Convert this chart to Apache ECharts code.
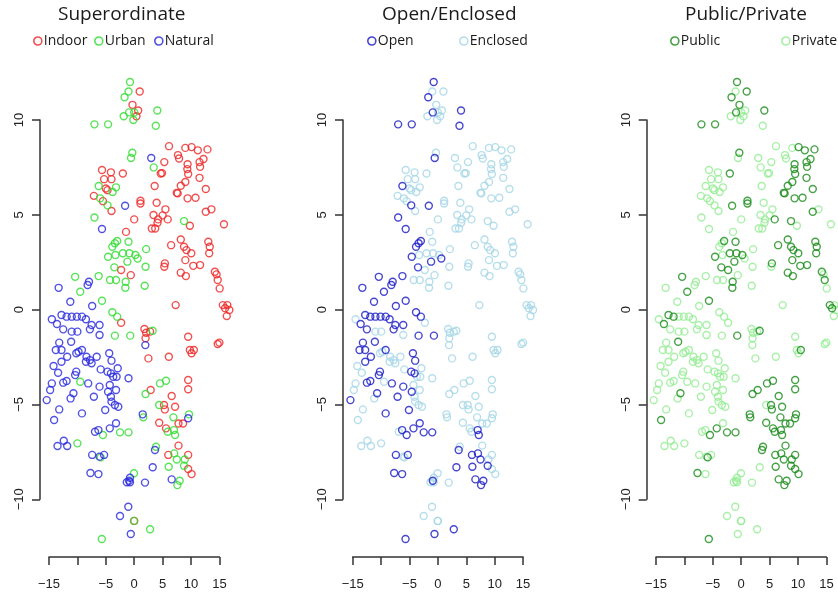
<!DOCTYPE html>
<html>
<head>
<meta charset="utf-8">
<script src="https://cdn.jsdelivr.net/npm/echarts@6/dist/echarts.min.js"></script>
<style>
  html, body { margin: 0; padding: 0; background: #fff; }
  #chart { width: 838px; height: 592px; }
</style>
</head>
<body>
<div id="chart"></div>
<script>
// each point: [x, y, open(1)/enclosed(0), public(1)/private(0)]
var indoorPts = [
  [0.97,11.5,0,1],[-0.3,10.8,0,1],[0.7,10.5,0,0],[0.4,10.2,0,0],
  [6.13,8.62,0,0],[9.0,8.53,0,0],[10.1,8.57,0,1],[11.2,8.4,0,1],[12.9,8.45,0,1],
  [7.7,8.15,0,0],[7.9,7.97,0,0],[12.2,7.94,0,1],[11.5,7.78,0,1],[9.4,7.67,0,1],
  [5.3,7.78,0,0],[11.6,7.53,0,1],[9.35,7.41,0,1],[9.5,7.15,0,1],[4.67,7.18,0,0],
  [4.9,7.2,0,0],[11.5,6.95,0,1],[9.0,6.73,0,1],[8.2,6.53,0,1],[3.6,6.52,0,0],
  [12.6,6.36,0,1],[7.5,6.16,0,1],[7.65,6.13,0,1],[9.4,5.87,0,1],[10.8,5.9,0,1],
  [12.6,5.16,0,1],[13.6,5.29,0,0],[5.5,5.29,0,0],[5.0,4.97,0,0],[3.4,4.99,0,0],
  [4.2,4.76,0,0],[4.1,4.58,0,0],[5.9,4.76,0,1],[3.1,4.28,0,0],[3.7,4.28,0,0],
  [0.0,4.76,0,0],[9.8,4.42,0,0],[15.8,4.5,0,0],[-1.44,4.1,0,0],[1.1,5.74,0,1],
  [1.1,5.6,0,1],[3.95,5.64,0,0],
  [-2.0,7.18,0,1],[-5.67,7.36,0,0],[-4.1,7.24,0,0],[-5.3,6.88,0,0],[-4.0,6.88,0,0],
  [-5.0,6.39,0,0],[-4.7,6.3,0,0],[-7.1,6.0,0,0],[-5.5,5.72,0,0],[-4.0,5.2,0,0],
  [6.5,3.4,0,1],[8.2,3.7,0,1],[8.77,3.32,0,1],[9.2,3.14,0,1],[10.05,2.97,0,1],
  [9.0,2.61,0,1],[13.05,3.58,0,1],[13.3,3.32,0,1],[13.2,2.97,0,1],[5.4,2.44,0,1],
  [5.3,2.26,0,0],[10.4,2.31,0,1],[11.6,2.35,0,1],[8.2,1.95,0,1],[9.1,1.77,0,1],
  [14.2,2.0,0,1],[14.5,1.86,0,0],[14.7,1.56,0,1],[15.05,1.12,0,0],[7.3,0.24,0,0],
  [15.6,0.24,0,1],[16.4,0.24,0,0],[16.0,0.07,0,1],[16.75,-0.02,0,0],[16.3,-0.34,0,0],
  [-2.3,2.09,0,1],[-0.6,1.82,0,0],[-2.3,-0.69,0,0],
  [1.8,-1.02,0,0],[2.1,-1.22,0,0],[2.8,-1.16,0,0],[2.0,-1.51,0,0],[9.5,-1.43,0,0],
  [9.8,-2.13,0,0],[10.5,-2.13,0,1],[10.1,-2.3,0,0],[14.7,-1.81,0,0],[15.0,-1.74,0,0],
  [2.5,-2.57,0,0],[6.1,-2.48,0,0],[9.5,-3.71,0,1],[9.5,-4.2,0,1],[2.9,-4.24,0,1],
  [6.6,-4.55,0,1],[5.25,-5.03,0,1],[5.4,-5.26,0,1],[7.2,-5.12,0,1],[4.4,-5.96,0,1],
  [5.6,-6.26,0,1],[7.8,-6.0,0,1],[8.6,-6.0,0,1],[7.8,-7.17,0,1],[6.0,-7.66,1,1],
  [9.5,-7.66,0,1],[9.5,-8.4,0,1],[10.1,-8.67,0,1],[0.0,-11.14,0,0]
];
var urbanPts = [
  [-0.74,12.0,1,1],[-1.0,11.5,0,0],[-1.7,11.2,1,1],[-0.9,10.4,1,1],[0.0,10.4,0,0],
  [-1.85,10.2,0,0],[-0.15,10.0,0,0],[4.07,10.5,1,1],[3.8,9.7,1,0],[-7.0,9.77,1,1],
  [-4.6,9.77,1,1],[-0.33,8.27,0,1],[-0.56,8.0,1,0],[3.43,7.5,0,0],[-6.25,6.52,1,0],
  [-3.2,6.45,0,0],[-3.8,6.2,0,0],[-6.0,5.87,0,0],[-4.7,5.5,1,0],[-7.0,4.86,1,0],
  [8.77,4.67,0,1],[-3.0,3.62,1,1],[-3.4,3.5,1,0],[-3.85,3.32,1,0],[-1.0,3.58,0,1],
  [-4.6,2.79,1,1],[-3.3,2.88,0,0],[-2.0,2.97,0,1],[-0.85,2.97,0,1],[0.2,2.88,0,1],
  [0.6,2.7,1,0],[2.1,3.19,0,0],[-1.2,2.53,1,1],[-3.5,2.23,1,1],[2.0,2.26,0,0],
  [-4.26,1.56,0,0],[-3.2,1.56,0,0],[-1.5,1.47,0,1],[-1.56,1.15,0,1],[1.85,1.26,0,0],
  [-6.25,1.77,1,0],[-10.4,1.73,1,1],[-9.5,0.94,1,1],[-5.67,0.47,1,1],[-3.85,-0.14,1,0],
  [-3.0,-0.37,1,0],[-3.4,-1.37,1,0],[-0.7,-1.37,1,1],[3.25,-1.11,0,1],[-9.5,-3.8,0,0],
  [4.54,-3.89,0,1],[5.6,-3.75,0,1],[2.0,-4.45,0,1],[4.4,-5.03,0,0],[1.6,-5.68,0,1],
  [6.9,-5.68,0,1],[9.65,-5.52,0,1],[7.0,-6.35,1,1],[7.2,-6.61,1,1],[5.9,-6.44,0,1],
  [-5.5,-6.61,1,1],[-2.5,-6.47,1,1],[-1.0,-6.47,1,1],[-10.0,-7.05,0,0],[3.84,-7.23,0,1],
  [7.05,-7.58,1,1],[7.5,-7.9,1,1],[8.9,-7.9,0,1],[8.77,-8.23,1,1],[6.07,-8.28,1,1],
  [8.0,-9.02,1,1],[7.6,-9.25,1,1],[-5.9,-7.79,0,1],[-0.04,-8.63,0,0],[-0.04,-11.14,0,0],
  [2.8,-11.58,1,0],[-5.7,-12.09,1,1]
];
var naturalPts = [
  [3.0,8.0,0,0],[-1.6,5.48,1,1],[-5.67,4.25,1,0],[-7.96,1.47,1,0],[-8.2,1.3,1,0],
  [-13.3,1.15,1,0],[-11.25,0.42,1,0],[-7.4,0.19,1,0],[-14.5,-0.51,0,0],[-12.8,-0.28,1,1],
  [-11.9,-0.37,1,1],[-11.0,-0.37,1,0],[-10.1,-0.37,1,0],[-9.2,-0.37,1,0],[-8.5,-0.51,1,0],
  [-13.6,-0.76,1,1],[-7.5,-0.81,1,0],[-6.1,-0.81,1,0],[-12.5,-1.04,1,0],[-11.0,-1.16,0,0],
  [-10.0,-1.16,0,0],[-7.8,-1.04,1,0],[-6.1,-1.34,0,0],[-13.2,-1.74,1,0],[-13.8,-2.13,1,0],
  [-12.8,-2.13,1,0],[-11.1,-1.69,1,1],[-9.8,-2.22,0,0],[-9.2,-2.13,1,0],[-10.2,-2.3,0,0],
  [-8.4,-2.48,0,0],[-7.8,-2.66,0,0],[-6.6,-2.48,0,0],[-8.5,-2.75,0,0],[-7.5,-2.83,0,0],
  [-11.8,-2.48,1,0],[-12.8,-2.75,1,0],[-14.2,-2.97,0,0],[-13.4,-3.33,0,0],[-10.2,-3.27,1,0],
  [-10.4,-3.45,1,0],[-4.4,-2.3,1,0],[-4.0,-2.69,1,0],[-5.9,-3.15,0,0],[-4.7,-3.27,1,0],
  [-4.1,-3.36,1,0],[-2.9,-3.09,0,0],[-3.1,-3.54,0,0],[-3.7,-3.54,0,0],[-1.0,-3.62,0,0],
  [-11.9,-3.76,1,0],[-12.5,-3.85,1,0],[-14.5,-3.89,0,0],[-14.8,-4.24,0,0],[-8.1,-3.89,1,0],
  [-6.1,-4.06,1,0],[-4.3,-3.97,0,0],[-3.2,-4.24,0,0],[-4.6,-4.33,1,0],[-10.7,-4.41,1,1],
  [-11.2,-4.68,0,0],[-7.1,-4.59,1,0],[-4.1,-4.59,0,0],[-4.0,-4.85,0,0],[-3.4,-5.03,0,0],
  [-5.1,-5.29,1,0],[-2.8,-5.12,0,0],[-15.4,-4.77,1,0],[-13.2,-5.26,0,0],[-14.1,-5.82,0,1],
  [-9.2,-5.47,1,0],[-6.9,-6.44,0,0],[-6.3,-6.35,1,0],[-4.3,-6.26,1,1],[-3.2,-5.99,1,0],
  [-13.5,-7.19,0,0],[-12.4,-6.91,0,0],[-11.8,-7.19,0,0],[-7.4,-7.66,1,0],[-6.1,-7.75,0,0],
  [-5.3,-7.66,1,0],[1.96,-1.87,0,0],[1.5,-5.52,0,1],[9.5,-5.73,0,1],[3.66,-7.4,1,1],
  [-7.7,-8.61,1,1],[-6.3,-8.67,1,0],[-0.74,-8.86,0,0],[-0.9,-9.02,1,0],[-1.3,-9.1,0,0],
  [-0.74,-9.1,0,0],[1.9,-9.12,0,0],[3.26,-8.31,1,0],[6.6,-8.95,1,1],[-1.04,-10.39,0,0],
  [-2.5,-10.88,0,0],[-0.6,-11.83,1,0]
];

var xTicks = [-15, -10, -5, 0, 5, 10, 15];
var xTickLabels = ['\u221215', '', '\u22125', '0', '5', '10', '15'];
var yTicks = [-10, -5, 0, 5, 10];
var yTickLabels = ['\u221210', '\u22125', '0', '5', '10'];

var panelTitles = ['Superordinate', 'Open/Enclosed', 'Public/Private'];

var allPts = indoorPts.concat(urbanPts, naturalPts);
function xy(list) { return list.map(function (p) { return [p[0], p[1]]; }); }
var openPts = allPts.filter(function (p) { return p[2] === 1; });
var enclosedPts = allPts.filter(function (p) { return p[2] === 0; });
var publicPts = allPts.filter(function (p) { return p[3] === 1; });
var privatePts = allPts.filter(function (p) { return p[3] === 0; });

var colors = {
  Indoor: '#ee2424', Urban: '#2edc2e', Natural: '#2626dc',
  Open: '#1818c4', Enclosed: '#a4d6e6',
  Public: '#168a16', Private: '#92ec92'
};

// panel geometry: grid spans x -15..15 and y -10..10
var panelLeft = [49, 352.7, 656];
var axisLeft = [40, 343, 646.7];
var gridW = 170.4, gridTop = 120, gridH = 379.3;
var titleLeft = [58, 382, 685];

var grids = [], xAxes = [], yAxes = [];
panelLeft.forEach(function (l, i) {
  grids.push({ left: l, top: gridTop, width: gridW, height: gridH, outerBoundsMode: 'none', containLabel: false });
  xAxes.push({
    gridIndex: i, type: 'value', min: -15, max: 15, interval: 5, offset: 57.7,
    axisLine: { show: true, onZero: false, lineStyle: { color: '#333', width: 1.5 } },
    axisTick: { show: true, length: 8, lineStyle: { color: '#333', width: 1.5 } },
    axisLabel: {
      margin: 21, fontSize: 13, color: '#222', fontFamily: 'Liberation Sans',
      formatter: function (v) { var k = xTicks.indexOf(v); return k < 0 ? '' : xTickLabels[k]; }
    },
    splitLine: { show: false }
  });
  yAxes.push({
    gridIndex: i, type: 'value', min: -10, max: 10, interval: 5, offset: l - axisLeft[i],
    axisLine: { show: true, onZero: false, lineStyle: { color: '#333', width: 1.5 } },
    axisTick: { show: true, length: 8, lineStyle: { color: '#333', width: 1.5 } },
    axisLabel: {
      rotate: 90, margin: 14, fontSize: 13, color: '#222', fontFamily: 'Liberation Sans',
      formatter: function (v) { var k = yTicks.indexOf(v); return k < 0 ? '' : yTickLabels[k]; }
    },
    splitLine: { show: false }
  });
});

function scatter(name, idx, data) {
  return {
    name: name, type: 'scatter', xAxisIndex: idx, yAxisIndex: idx,
    data: xy(data), symbol: 'circle', symbolSize: 7, clip: false,
    itemStyle: { color: 'rgba(0,0,0,0)', borderColor: colors[name], borderWidth: 1.4 },
    emphasis: { disabled: true }
  };
}

var series = [
  scatter('Indoor', 0, indoorPts), scatter('Urban', 0, urbanPts), scatter('Natural', 0, naturalPts),
  scatter('Enclosed', 1, enclosedPts), scatter('Open', 1, openPts),
  scatter('Private', 2, privatePts), scatter('Public', 2, publicPts)
];

// one legend per entry so each sits where the original placed it
var legendPos = [
  ['Indoor', 37], ['Urban', 98], ['Natural', 158],
  ['Open', 371], ['Enclosed', 463],
  ['Public', 674], ['Private', 785]
];
var legends = legendPos.map(function (lp) {
  return {
    left: lp[1] - 4, top: 34, padding: 0, itemWidth: 8, itemHeight: 8, selectedMode: false,
    data: [{ name: lp[0], icon: 'circle',
      itemStyle: { color: 'rgba(0,0,0,0)', borderColor: colors[lp[0]], borderWidth: 1.6 } }],
    textStyle: { fontSize: 14, color: '#1a1a1a', fontFamily: 'Open Sans', padding: [0, 0, 0, -3] }
  };
});

var titles = panelTitles.map(function (t, i) {
  return {
    text: t, left: titleLeft[i], top: 5, padding: 0,
    textStyle: { fontSize: 19, fontWeight: 'normal', color: '#1a1a1a', fontFamily: 'Open Sans' }
  };
});

var myChart = echarts.init(document.getElementById('chart'));
myChart.setOption({
  animation: false,
  backgroundColor: '#ffffff',
  title: titles,
  legend: legends,
  grid: grids,
  xAxis: xAxes,
  yAxis: yAxes,
  series: series
});
</script>
</body>
</html>
